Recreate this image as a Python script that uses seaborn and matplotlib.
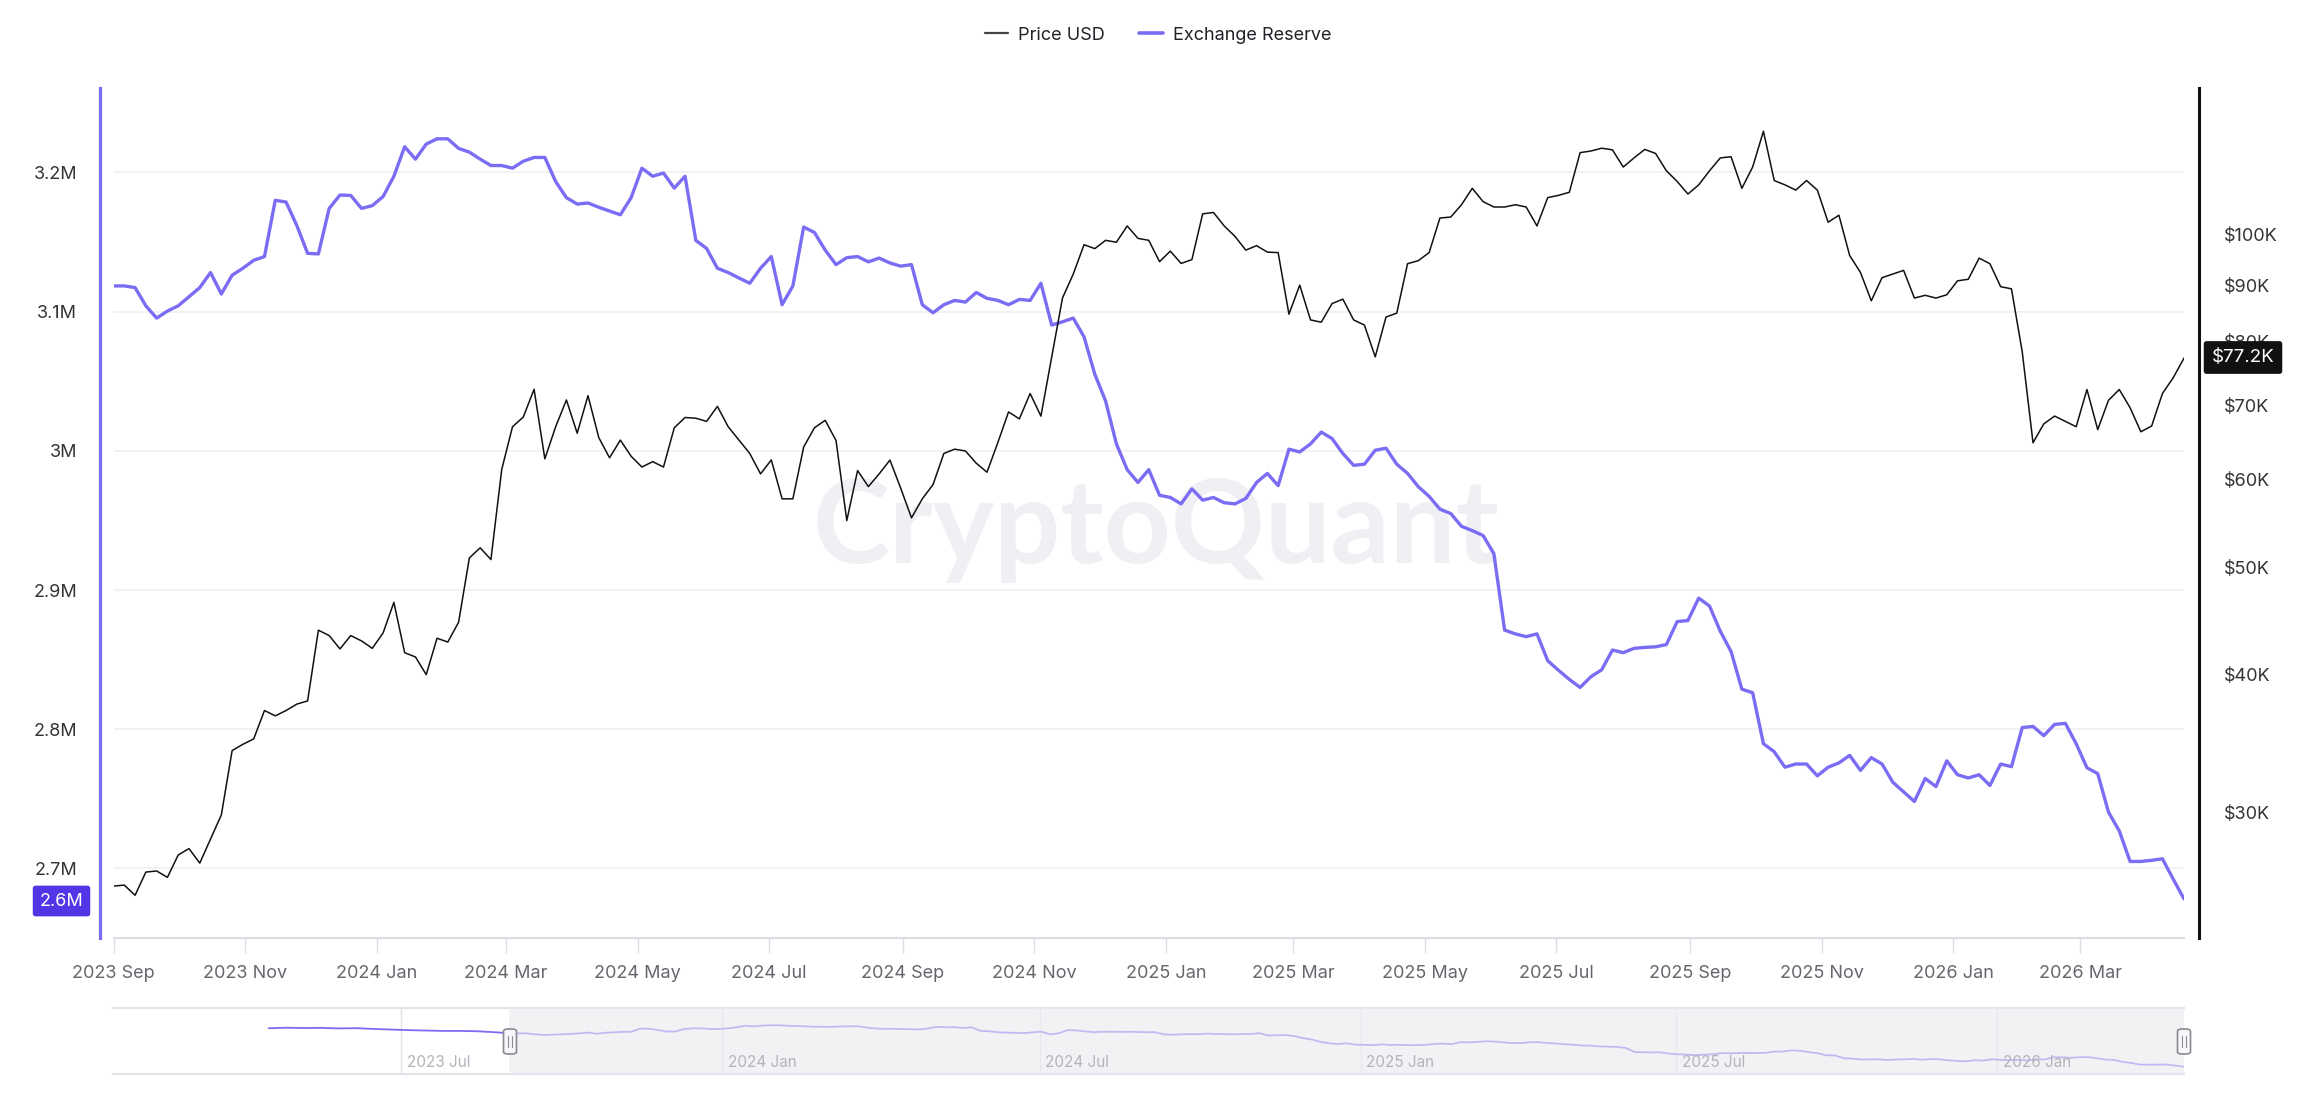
import numpy as np
import pandas as pd
import matplotlib
matplotlib.use("Agg")
import matplotlib.pyplot as plt
import matplotlib.dates as mdates
from matplotlib.lines import Line2D
from matplotlib.patches import FancyBboxPatch
from matplotlib.ticker import FixedLocator, FuncFormatter, NullLocator
import seaborn as sns

# ---------------- data ----------------
start_date = "2023-09-01"
step = "5D"

reserve_m = [
    3.1185, 3.1185, 3.1173, 3.1042, 3.0954, 3.1004, 3.1042, 3.1108, 3.1173, 3.1281,
    3.1127, 3.1262, 3.1312, 3.1369, 3.1396, 3.1800, 3.1788, 3.1619, 3.1419, 3.1415,
    3.1742, 3.1838, 3.1835, 3.1742, 3.1762, 3.1827, 3.1973, 3.2185, 3.2096, 3.2204,
    3.2242, 3.2242, 3.2173, 3.2146, 3.2096, 3.2050, 3.2050, 3.2031, 3.2081, 3.2108,
    3.2108, 3.1935, 3.1819, 3.1773, 3.1781, 3.1750, 3.1723, 3.1696, 3.1819, 3.2031,
    3.1973, 3.1996, 3.1888, 3.1973, 3.1512, 3.1454, 3.1312, 3.1281, 3.1242, 3.1204,
    3.1312, 3.1396, 3.1050, 3.1185, 3.1608, 3.1569, 3.1442, 3.1338, 3.1388, 3.1396,
    3.1358, 3.1385, 3.1350, 3.1327, 3.1338, 3.1050, 3.0992, 3.1050, 3.1081, 3.1069,
    3.1138, 3.1096, 3.1081, 3.1050, 3.1088, 3.1081, 3.1204, 3.0904, 3.0927, 3.0954,
    3.0819, 3.0550, 3.0358, 3.0050, 2.9865, 2.9773, 2.9865, 2.9681, 2.9665, 2.9619,
    2.9727, 2.9646, 2.9665, 2.9627, 2.9619, 2.9658, 2.9773, 2.9838, 2.9750, 3.0012,
    2.9992, 3.0050, 3.0135, 3.0088, 2.9981, 2.9896, 2.9904, 3.0004, 3.0019, 2.9904,
    2.9838, 2.9742, 2.9673, 2.9581, 2.9550, 2.9458, 2.9427, 2.9392, 2.9262, 2.8712,
    2.8685, 2.8665, 2.8685, 2.8492, 2.8423, 2.8358, 2.8300, 2.8377, 2.8427, 2.8569,
    2.8550, 2.8581, 2.8588, 2.8592, 2.8608, 2.8773, 2.8781, 2.8942, 2.8885, 2.8704,
    2.8558, 2.8288, 2.8262, 2.7896, 2.7838, 2.7727, 2.7750, 2.7750, 2.7665, 2.7727,
    2.7758, 2.7812, 2.7704, 2.7796, 2.7750, 2.7619, 2.7550, 2.7481, 2.7646, 2.7588,
    2.7773, 2.7673, 2.7650, 2.7673, 2.7596, 2.7750, 2.7731, 2.8012, 2.8020, 2.7954,
    2.8035, 2.8042, 2.7896, 2.7723, 2.7681, 2.7404, 2.7269, 2.7050, 2.7050, 2.7058,
    2.7069, 2.6923, 2.6781,
]

price_k = [
    25.73, 25.78, 25.24, 26.49, 26.55, 26.20, 27.45, 27.82, 26.99, 28.38,
    29.84, 34.12, 34.57, 34.96, 37.09, 36.68, 37.09, 37.59, 37.84, 43.85,
    43.36, 42.17, 43.36, 42.88, 42.22, 43.60, 46.47, 41.84, 41.47, 39.97,
    43.12, 42.78, 44.58, 50.97, 52.06, 50.80, 61.28, 67.00, 68.36, 72.44,
    62.66, 67.00, 70.84, 66.10, 71.48, 65.50, 62.80, 65.16, 63.00, 61.60,
    62.30, 61.60, 66.85, 68.30, 68.20, 67.75, 69.90, 67.00, 65.16, 63.37,
    60.73, 62.52, 57.65, 57.65, 64.23, 66.85, 67.90, 65.10, 55.10, 61.15,
    59.14, 60.73, 62.50, 58.94, 55.41, 57.65, 59.40, 63.37, 63.94, 63.70,
    62.10, 60.94, 64.80, 69.10, 68.10, 71.80, 68.50, 77.50, 87.60, 92.10,
    97.90, 97.10, 98.80, 98.40, 101.8, 99.20, 98.80, 94.50, 96.60, 94.15,
    94.90, 104.4, 104.7, 101.8, 99.60, 96.80, 97.70, 96.40, 96.30, 84.70,
    90.00, 83.70, 83.30, 86.60, 87.40, 83.70, 82.80, 77.50, 84.20, 84.90,
    94.10, 94.70, 96.30, 103.5, 103.7, 106.4, 110.1, 107.1, 105.9, 105.9,
    106.4, 105.9, 101.8, 108.0, 108.5, 109.2, 118.6, 119.0, 119.7, 119.3,
    115.1, 117.3, 119.4, 118.4, 114.2, 111.7, 108.8, 110.9, 114.2, 117.3,
    117.6, 110.1, 115.1, 124.0, 111.9, 110.9, 109.7, 111.9, 109.7, 102.6,
    104.1, 95.70, 92.40, 87.10, 91.40, 92.10, 92.80, 87.60, 88.10, 87.60,
    88.20, 90.80, 91.10, 95.20, 94.10, 89.70, 89.30, 78.30, 64.80, 67.40,
    68.50, 67.75, 67.00, 72.40, 66.60, 70.80, 72.40, 69.70, 66.30, 67.10,
    71.80, 74.20, 77.30,
]

# earlier history, only visible in the navigator strip
nav_pre_dates = ["2023-04-16", "2023-04-26", "2023-05-06", "2023-05-16", "2023-05-26",
                 "2023-06-05", "2023-06-15", "2023-06-25", "2023-07-05", "2023-07-15",
                 "2023-07-25", "2023-08-04", "2023-08-14", "2023-08-24"]
nav_pre_reserve_m = [3.185, 3.192, 3.188, 3.190, 3.183, 3.186, 3.176, 3.168, 3.160,
                     3.155, 3.150, 3.150, 3.145, 3.132]

left_ticks = [2.7, 2.8, 2.9, 3.0, 3.1, 3.2]
right_ticks = [30, 40, 50, 60, 70, 80, 90, 100]
nav_label_dates = ["2023-07-01", "2024-01-01", "2024-07-01", "2025-01-01", "2025-07-01", "2026-01-01"]
last_reserve_label = "2.6M"
last_price_label = "$77.2K"

# ---------------- build frames ----------------
dates = pd.date_range(start_date, periods=len(reserve_m), freq=step)
df = pd.DataFrame({"date": dates, "reserve": reserve_m, "price": price_k})
nav_df = pd.concat([
    pd.DataFrame({"date": pd.to_datetime(nav_pre_dates), "reserve": nav_pre_reserve_m}),
    df[["date", "reserve"]],
], ignore_index=True)

# ---------------- style ----------------
sns.set_theme(style="white")
plt.rcParams["font.family"] = ["Inter", "DejaVu Sans"]

PURPLE = "#7b6cf4"
W, H = 2312, 1106
fig = plt.figure(figsize=(W / 100, H / 100), dpi=100)
fig.patch.set_facecolor("white")

def fx(px):
    return px / W

def fy(py):
    return 1 - py / H

L, R, T, B = 113.5, 2184.0, 88.0, 938.0
ax = fig.add_axes([fx(L), fy(B), fx(R - L), (B - T) / H])
ax.set_facecolor("none")

# watermark
ax.text(0.5035, 0.441, "CryptoQuant", transform=ax.transAxes, ha="center", va="baseline",
        fontsize=84, fontweight="bold", color="#efeff4", family=["Lato", "DejaVu Sans"], zorder=0)

sns.lineplot(data=df, x="date", y="reserve", ax=ax, color=PURPLE, lw=2.4, zorder=3)
ax.set_xlim(dates[0], dates[-1])
ax.set_ylim(2.650, 3.2607)
ax.yaxis.set_major_locator(FixedLocator(left_ticks))
ax.yaxis.set_major_formatter(FuncFormatter(lambda v, p: f"{v:g}M"))
ax.grid(False)
ax.yaxis.grid(True, color="#f0f0f3", lw=1.2)
ax.set_xlabel("")
ax.set_ylabel("")

for s in ["top", "right"]:
    ax.spines[s].set_visible(False)
ax.spines["left"].set_color(PURPLE)
ax.spines["left"].set_linewidth(2.3)
ax.spines["left"].set_position(("outward", 9.7))
ax.spines["bottom"].set_color("#dcdce4")
ax.spines["bottom"].set_linewidth(1.5)

ax.xaxis.set_major_locator(mdates.MonthLocator(bymonth=[1, 3, 5, 7, 9, 11]))
ax.xaxis.set_major_formatter(mdates.DateFormatter("%Y %b"))
ax.tick_params(axis="x", length=10.5, width=1, color="#dcdce4", labelcolor="#66666e",
               labelsize=13, pad=9, direction="out", bottom=True)
ax.tick_params(axis="y", length=0, labelcolor="#333338", labelsize=13, pad=16.5)

ax2 = ax.twinx()
ax2.set_facecolor("none")
sns.lineplot(data=df, x="date", y="price", ax=ax2, color="#111111", lw=1.1, zorder=4)
ax2.set_yscale("log")
ax2.set_ylim(23.09, 135.7)
ax2.yaxis.set_major_locator(FixedLocator(right_ticks))
ax2.yaxis.set_minor_locator(NullLocator())
ax2.yaxis.set_major_formatter(FuncFormatter(lambda v, p: f"${v:g}K"))
ax2.set_ylabel("")
ax2.grid(False)
for s in ["top", "left", "bottom"]:
    ax2.spines[s].set_visible(False)
ax2.spines["right"].set_color("#111111")
ax2.spines["right"].set_linewidth(2.2)
ax2.spines["right"].set_position(("outward", 10.8))
ax2.tick_params(axis="y", length=0, labelcolor="#333338", labelsize=13, pad=18)

# current value tags
fig.text(fx(61.5), fy(901), last_reserve_label, ha="center", va="center", color="white",
         fontsize=13, bbox=dict(boxstyle="round,pad=0.38,rounding_size=0.15", fc="#5236e6", ec="none"))
fig.text(fx(2243), fy(357.5), last_price_label, ha="center", va="center", color="white",
         fontsize=13.5, bbox=dict(boxstyle="round,pad=0.42,rounding_size=0.15", fc="#111111", ec="none"))

# legend
handles = [Line2D([], [], color="#444444", lw=1.6), Line2D([], [], color=PURPLE, lw=2.6)]
fig.legend(handles, ["Price USD", "Exchange Reserve"], loc="center",
           bbox_to_anchor=(fx(1158), fy(35)), ncol=2, frameon=False, fontsize=13,
           handlelength=1.3, handletextpad=0.55, columnspacing=1.9, labelcolor="#222228")

# ---------------- navigator ----------------
NT, NB = 1008.0, 1074.0
axn = fig.add_axes([fx(L), fy(NB), fx(R - L), (NB - NT) / H])
sns.lineplot(data=nav_df, x="date", y="reserve", ax=axn, color=PURPLE, lw=1.3, zorder=2)
axn.set_xlim(pd.Timestamp("2023-01-17"), dates[-1])
axn.set_ylim(2.582, 3.452)
axn.set_xticks([])
axn.set_yticks([])
axn.set_xlabel("")
axn.set_ylabel("")
for s in ["left", "right"]:
    axn.spines[s].set_visible(False)
for s in ["top", "bottom"]:
    axn.spines[s].set_color("#e2e2ea")
    axn.spines[s].set_linewidth(1.5)
axn.axvspan(dates[0], dates[-1], color="#ebebf0", alpha=0.62, zorder=3, lw=0)
for d in nav_label_dates:
    dd = pd.Timestamp(d)
    axn.axvline(dd, color="#e2e2ea", lw=1, zorder=1)
    axn.annotate(dd.strftime("%Y %b"), (dd, 0.18), xycoords=("data", "axes fraction"),
                 xytext=(4, 0), textcoords="offset points", ha="left", va="center",
                 fontsize=11, color="#b4b4bc", zorder=4)

for cx in [510, 2184]:
    hw, y0, y1 = 6.5, 1029, 1054
    fig.patches.append(FancyBboxPatch((fx(cx - hw), fy(y1)), fx(2 * hw), (y1 - y0) / H,
                                      boxstyle="round,pad=0,rounding_size=0.002",
                                      transform=fig.transFigure, fc="#f7f7f9", ec="#8a8a92", lw=1.2))
    for dx in (-1.8, 1.8):
        fig.lines.append(Line2D([fx(cx + dx), fx(cx + dx)], [fy(1047), fy(1036)],
                                transform=fig.transFigure, color="#8a8a92", lw=0.8))

fig.savefig("out.png", dpi=100)
